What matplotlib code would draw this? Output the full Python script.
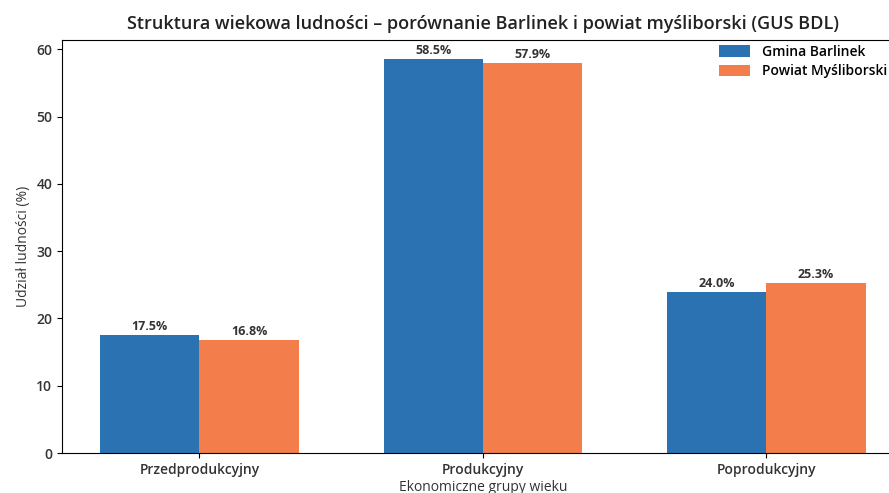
import matplotlib
matplotlib.use("Agg")
import matplotlib.pyplot as plt
import numpy as np

plt.rcParams['font.family'] = ['Open Sans', 'DejaVu Sans']

groups = ["Przedprodukcyjny", "Produkcyjny", "Poprodukcyjny"]
barlinek = [17.5, 58.5, 24.0]
powiat = [16.8, 57.9, 25.3]

x = np.arange(len(groups))
w = 0.35

fig = plt.figure(figsize=(8.89, 4.93), dpi=100)
ax = fig.add_axes([0.0697, 0.0811, 0.947, 0.838])

b1 = ax.bar(x - w/2, barlinek, w, color="#2b72b2", label="Gmina Barlinek")
b2 = ax.bar(x + w/2, powiat, w, color="#f47d4c", label="Powiat Myśliborski")

for bars in (b1, b2):
    for b in bars:
        ax.text(b.get_x() + b.get_width()/2, b.get_height() + 0.3,
                f"{b.get_height():.1f}%", ha="center", va="bottom",
                fontsize=9, fontweight="bold", color="#333333")

ax.set_xticks(x)
ax.set_xticklabels(groups, fontsize=10, color="#333333", fontweight="semibold")
ax.tick_params(axis="y", labelsize=10, labelcolor="#333333")
for t in ax.get_yticklabels():
    t.set_fontweight("semibold")
ax.set_ylim(0, 61.4)
ax.set_xlim(-0.485, 2.485)
ax.set_ylabel("Udział ludności (%)", fontsize=10, color="#333333")
ax.set_xlabel("Ekonomiczne grupy wieku", fontsize=10, color="#333333", labelpad=2)
ax.set_title("Struktura wiekowa ludności – porównanie Barlinek i powiat myśliborski (GUS BDL)",
             fontsize=13, color="#222222", fontweight="semibold", pad=8)
leg = ax.legend(loc="upper left", bbox_to_anchor=(0.795, 0.935), bbox_transform=fig.transFigure,
                frameon=False, prop={"weight": "semibold", "size": 10},
                handlelength=2.2, handleheight=0.9, handletextpad=0.9, labelspacing=0.4)

fig.savefig("out.png", dpi=100)
